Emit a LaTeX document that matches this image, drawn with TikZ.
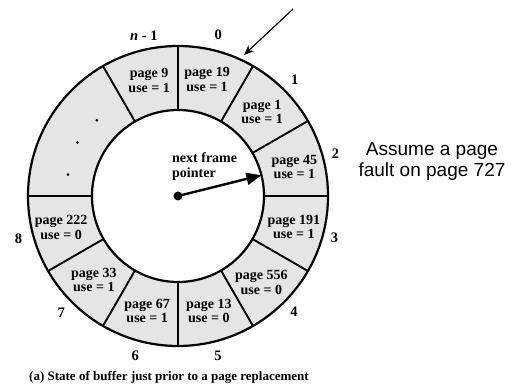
\documentclass[tikz,border=0pt]{standalone}
\usepackage{fontspec}
\setmainfont{Liberation Serif}
\newfontfamily\notefont{Liberation Sans}
\usetikzlibrary{arrows.meta}

\tikzset{
  frametext/.style={align=center,inner sep=0pt,
    font=\bfseries\fontsize{14}{14.5}\selectfont},
  slotnum/.style={inner sep=0pt,font=\bfseries\fontsize{14.5}{16}\selectfont},
}

\begin{document}
\begin{tikzpicture}[x=1pt,y=1pt,>=Stealth]
  \useasboundingbox (-178,-189) rectangle (339,196);

  %--- Buffer ring ---
  \coordinate (ctr) at (0,0);
  \fill[black!10,even odd rule] (ctr) circle (150pt) (ctr) circle (86pt);
  \draw[line width=2.2pt] (ctr) circle (150pt);
  \draw[line width=2.2pt] (ctr) circle (86pt);
  \foreach \a in {90,60,30,0,-30,-60,-90,-120,-150,180,120}
    \draw[line width=1.9pt] (\a:86) -- (\a:150);

  %--- Frame contents ---
  \node[frametext] (f0) at (76:120) {page 19\\use = 1};
  \node[frametext] (f1) at (45:119) {page 1\\use = 1};
  \node[frametext] (f2) at (14:120) {page 45\\use = 1};
  \node[frametext] (f3) at (-15:120) {page 191\\use = 1};
  \node[frametext] (f4) at (-46:120) {page 556\\use = 0};
  \node[frametext] (f5) at (-75:119) {page 13\\use = 0};
  \node[frametext] (f6) at (-105:119) {page 67\\use = 1};
  \node[frametext] (f7) at (-135:119) {page 33\\use = 1};
  \node[frametext] (f8) at (-165:121) {page 222\\use = 0};
  \node[frametext] (fn) at (104:119) {page 9\\use = 1};

  %--- Elided frames ---
  \fill (137:111) circle (1.5pt);
  \fill (152:114) circle (1.5pt);
  \fill (169:112) circle (1.5pt);

  %--- Frame numbers ---
  \node[slotnum] (n0) at (76:166) {0};
  \node[slotnum] (n1) at (45:165) {1};
  \node[slotnum] (n2) at (15:163) {2};
  \node[slotnum] (n3) at (-15:162) {3};
  \node[slotnum] (n4) at (-45:164) {4};
  \node[slotnum] (n5) at (-76:165) {5};
  \node[slotnum] (n6) at (-105:165) {6};
  \node[slotnum] (n7) at (-135:165) {7};
  \node[slotnum] (n8) at (-165:165) {8};
  \node[slotnum] (nn) at (102:164) {\textit{n} - 1};

  %--- Next frame pointer ---
  \coordinate (tip) at (14:86);
  \node[frametext,anchor=west,align=left] (ptr) at (-6,29.5)
       {next frame\\pointer};
  \fill (ctr) circle (4.5pt);
  \draw[line width=2.4pt,-{Triangle[length=15pt,width=12pt]}] (ctr) -- (tip);

  %--- Page fault note ---
  \coordinate (src) at (115,187);
  \coordinate (hit) at (66,141);
  \draw[line width=1.2pt,-{Stealth[length=10pt,width=8pt]}] (src) -- (hit);
  \node[align=center,inner sep=0pt,
        font=\notefont\fontsize{19}{21.5}\selectfont] (note) at (254,34.5)
       {Assume a page\\fault on page 727};

  %--- Caption ---
  \node[inner sep=0pt,font=\bfseries\fontsize{13}{14}\selectfont] (cap)
       at (-9,-181) {(a) State of buffer just prior to a page replacement};

\end{tikzpicture}
\end{document}
